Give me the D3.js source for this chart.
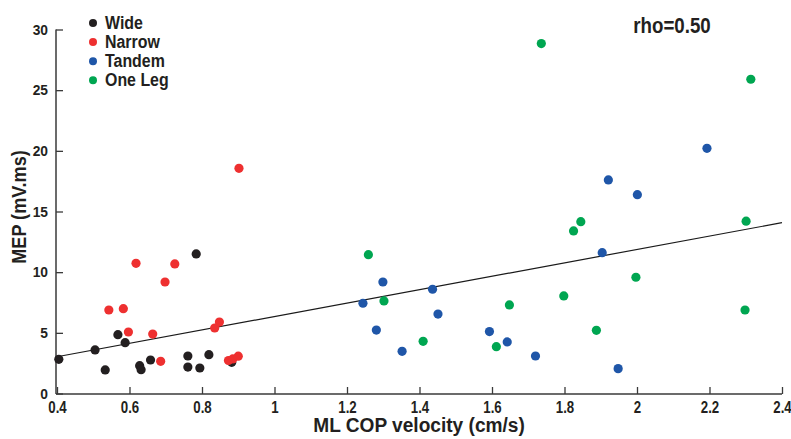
<!DOCTYPE html>
<html><head><meta charset="utf-8">
<script src="https://cdn.jsdelivr.net/npm/d3@7"></script>
<style>
body{margin:0;background:#fff;}
text{font-family:"Liberation Sans","Arial",sans-serif;font-weight:bold;fill:#231f20;}
</style></head>
<body><svg id="c" width="791" height="439"></svg>
<script>
const seriesNames = ["Wide","Narrow","Tandem","One Leg"];
const seriesColors = ["#231f20","#ee3030","#1f56a8","#00a651"];
const wideX = [0.405,0.505,0.533,0.568,0.588,0.628,0.632,0.658,0.761,0.761,0.784,0.794,0.819,0.882];
const wideY = [2.82,3.59,1.94,4.85,4.19,2.29,1.96,2.76,3.09,2.18,11.5,2.10,3.20,2.57];
const narrowX = [0.543,0.583,0.597,0.618,0.664,0.686,0.698,0.725,0.835,0.848,0.873,0.885,0.900,0.902];
const narrowY = [6.88,6.99,5.07,10.73,4.90,2.65,9.19,10.68,5.40,5.89,2.72,2.85,3.08,18.56];
const tandemX = [1.244,1.299,1.281,1.352,1.436,1.451,1.593,1.642,1.720,1.921,2.001,2.193,1.904,1.948];
const tandemY = [7.44,9.19,5.23,3.48,8.59,6.55,5.10,4.25,3.09,17.60,16.39,20.21,11.61,2.05];
const oneLegX = [1.259,1.302,1.410,1.612,1.648,1.736,2.314,1.845,1.825,1.798,1.997,1.888,2.301,2.298];
const oneLegY = [11.44,7.63,4.30,3.86,7.30,28.84,25.90,14.16,13.40,8.04,9.58,5.21,14.20,6.88];
const xTicks = [0.4,0.6,0.8,1,1.2,1.4,1.6,1.8,2,2.2,2.4];
const yTicks = [0,5,10,15,20,25,30];
const fitX = [0.4,2.4];
const fitY = [3.03,14.08];
const rhoLabel = "rho=0.50";

const seriesX = [wideX,narrowX,tandemX,oneLegX];
const seriesY = [wideY,narrowY,tandemY,oneLegY];

const svg = d3.select("#c");
const x = d3.scaleLinear().domain([0.4,2.4]).range([57,782]);
const y = d3.scaleLinear().domain([0,30]).range([393.5,29.5]);
const axisColor = "#3a3a3a";

// narrow-text helper: horizontal squeeze around the anchor point
function squeeze(sel, s){
  sel.each(function(){
    const t = d3.select(this);
    const tx = +t.attr("x")||0, ty = +t.attr("y")||0;
    t.attr("x",0).attr("y",0).attr("transform",`translate(${tx},${ty}) scale(${s},1)`);
  });
}

// x axis
const gx = svg.append("g").attr("transform","translate(0,394)")
  .call(d3.axisBottom(x).tickValues(xTicks).tickSizeInner(-7).tickSizeOuter(0).tickPadding(8).tickFormat(d=>d3.format("")(d)));
gx.select(".domain").attr("stroke",axisColor).attr("stroke-width",1.5).attr("d","M56,0H782");
gx.selectAll(".tick line").attr("stroke",axisColor).attr("stroke-width",1.3);
gx.selectAll("text").style("font-size","16px").attr("fill","#231f20").call(squeeze,0.83);

// y axis
const gy = svg.append("g").attr("transform","translate(56,0)")
  .call(d3.axisLeft(y).tickValues(yTicks).tickSizeInner(-7).tickSizeOuter(0).tickPadding(8));
gy.select(".domain").attr("stroke",axisColor).attr("stroke-width",1.5).attr("d","M0,"+y(30)+"V394");
gy.selectAll(".tick line").attr("stroke",axisColor).attr("stroke-width",1.3);
gy.selectAll("text").style("font-size","15px").attr("fill","#231f20").call(squeeze,0.92);

// fit line
svg.append("line")
  .attr("x1",x(fitX[0])).attr("y1",y(fitY[0]))
  .attr("x2",x(fitX[1])).attr("y2",y(fitY[1]))
  .attr("stroke","#1a1a1a").attr("stroke-width",1.2);

// points
seriesX.forEach((xs,i)=>{
  svg.append("g").selectAll("circle").data(xs.map((v,j)=>[v,seriesY[i][j]])).join("circle")
    .attr("cx",d=>x(d[0])).attr("cy",d=>y(d[1])).attr("r",4.6)
    .attr("fill",seriesColors[i]);
});

// legend
const lg = svg.append("g");
seriesNames.forEach((n,i)=>{
  const cy = 23 + i*19.1;
  lg.append("circle").attr("cx",93).attr("cy",cy).attr("r",4).attr("fill",seriesColors[i]);
  lg.append("text").attr("x",105).attr("y",cy+6).style("font-size","17.7px").text(n).call(squeeze,0.9);
});

// rho
svg.append("text").attr("x",672).attr("y",32.5).attr("text-anchor","middle").style("font-size","21.5px").text(rhoLabel).call(squeeze,0.87);

// axis titles
svg.append("text").attr("x",419).attr("y",432).attr("text-anchor","middle").style("font-size","21px").text("ML COP velocity (cm/s)").call(squeeze,0.91);
svg.append("text").attr("transform","translate(26,207) rotate(-90) scale(0.86,1)").attr("text-anchor","middle").style("font-size","21px").text("MEP (mV.ms)");
</script></body></html>
